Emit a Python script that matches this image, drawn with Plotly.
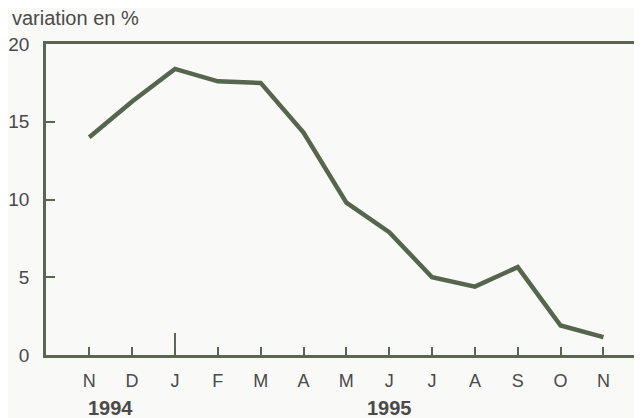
import plotly.graph_objects as go

months = ["N", "D", "J", "F", "M", "A", "M", "J", "J", "A", "S", "O", "N"]
values = [14.0, 16.3, 18.4, 17.6, 17.5, 14.3, 9.8, 7.9, 5.0, 4.4, 5.65, 1.9, 1.15]
year_labels = ["1994", "1995"]
year_pos = [0.5, 7]
y_ticks = [0, 5, 10, 15, 20]

line_col = "#56654d"
axis_col = "#5a6652"
text_col = "#4a4a4a"
bg = "#f9f9f7"
font_family = "Liberation Sans, Arial, sans-serif"

idx = list(range(len(months)))

fig = go.Figure()
fig.add_trace(go.Scatter(x=idx, y=values, mode="lines",
                         line=dict(color=line_col, width=4.5), hoverinfo="skip"))

fig.update_layout(
    width=634, height=410,
    margin=dict(l=36, r=0, t=36, b=63),
    paper_bgcolor=bg, plot_bgcolor=bg,
    showlegend=False,
    font=dict(family=font_family, color=text_col, size=18),
)
fig.update_xaxes(
    range=[-1.01, 12.9], tickvals=idx, ticktext=months,
    ticks="inside", ticklen=8, tickwidth=2, tickcolor=axis_col,
    showline=True, linecolor=axis_col, linewidth=2.5, mirror=True,
    showgrid=False, zeroline=False, ticklabelstandoff=8,
    tickfont=dict(size=18, color=text_col),
)
fig.update_yaxes(
    range=[0, 20], tickvals=y_ticks,
    ticks="inside", ticklen=9, tickwidth=2, tickcolor=axis_col,
    showline=True, linecolor=axis_col, linewidth=2.5,
    showgrid=False, zeroline=False, ticklabelstandoff=10,
    tickfont=dict(size=19, color=text_col),
)
# longer year-change tick at J
fig.add_shape(type="line", xref="x", yref="y", x0=2, x1=2,
              ysizemode="pixel", yanchor=0, y0=0, y1=22,
              line=dict(color=axis_col, width=2))

for lab, pos in zip(year_labels, year_pos):
    fig.add_annotation(x=pos, xref="x", y=0, yref="paper", yshift=-53,
                       yanchor="middle",
                       text="<b>" + lab + "</b>", showarrow=False,
                       font=dict(size=20, color=text_col))

fig.add_annotation(x=0, xref="paper", xshift=-36, y=1, yref="paper", yshift=26,
                   xanchor="left", yanchor="middle", text="variation en %",
                   showarrow=False, font=dict(size=20, color=text_col))

fig.write_html("out.html")
